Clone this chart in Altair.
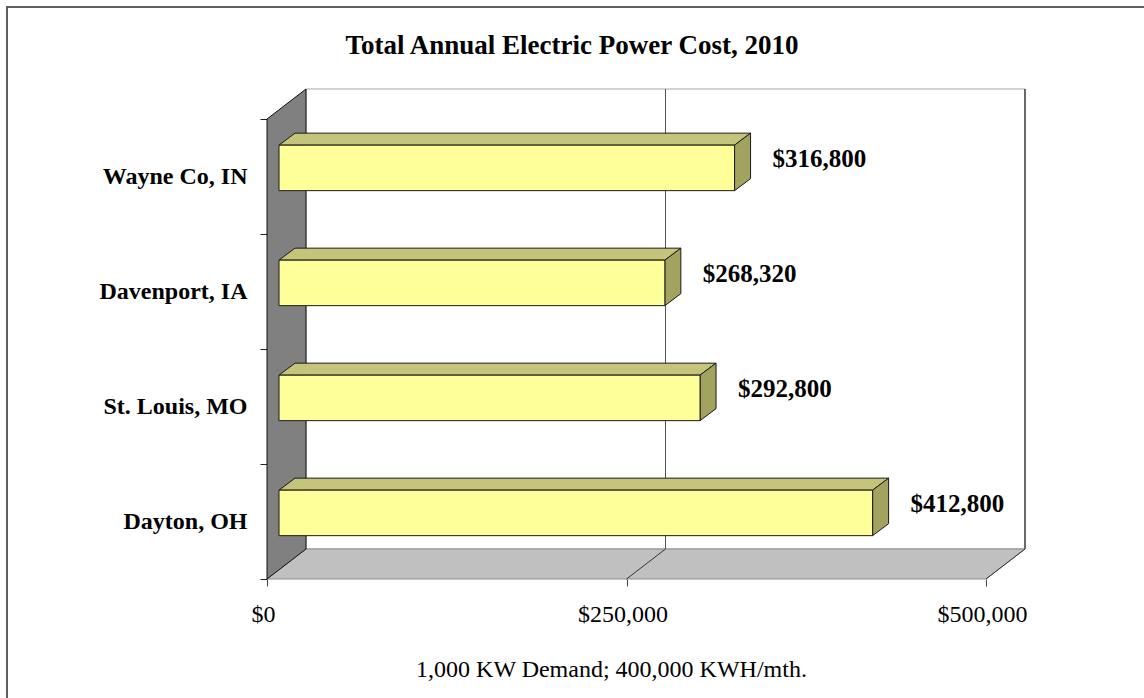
import json
import altair as alt
import pandas as pd

# ---- data -------------------------------------------------------------
cities = ["Wayne Co, IN", "Davenport, IA", "St. Louis, MO", "Dayton, OH"]
costs = [316800, 268320, 292800, 412800]
cost_ticks = [0, 250000, 500000]

chart_title = "Total Annual Electric Power Cost, 2010"
footnote = "1,000 KW Demand; 400,000 KWH/mth."

# ---- layout (pixels) --------------------------------------------------
CANVAS_W, CANVAS_H = 1144, 698
LEFT, TOP = 267, 119            # front-plane origin of the plot
PLOT_W, PLOT_H = 719, 460       # front plane size
X_MAX = 500000
N_ROWS = len(cities)

ux = X_MAX / PLOT_W             # dollars per pixel
uy = N_ROWS / PLOT_H            # category rows per pixel

# oblique depth of the chart box and of every bar
BOX_DX, BOX_DY = 39, 30
BAR_SHIFT_X, BAR_SHIFT_Y = 12, 8.6
BAR_DX, BAR_DY = 16, 12
BAR_H = 45.5

box_dx, box_dy = BOX_DX * ux, BOX_DY * uy
bar_dx, bar_dy = BAR_DX * ux, BAR_DY * uy

SERIF = "Liberation Serif"

# ---- derived tables ---------------------------------------------------
rows = [N_ROWS - i - 0.5 for i in range(N_ROWS)]
bars = pd.DataFrame({"city": cities, "cost": costs, "row": rows})
bars["x0"] = BAR_SHIFT_X * ux
bars["x1"] = bars["cost"] + BAR_SHIFT_X * ux
bars["yc"] = bars["row"] + BAR_SHIFT_Y * uy
bars["yb"] = bars["yc"] - BAR_H / 2 * uy
bars["yt"] = bars["yc"] + BAR_H / 2 * uy
bars["xl"] = bars["x1"] + bar_dx

top_face = pd.DataFrame([
    {"city": r.city, "y": r.yt + k * bar_dy,
     "xa": r.x0 + k * bar_dx, "xb": r.x1 + k * bar_dx}
    for r in bars.itertuples() for k in (0, 1)
])
side_face = pd.DataFrame([
    {"city": r.city, "x": r.x1 + k * bar_dx,
     "ya": r.yb + k * bar_dy, "yb": r.yt + k * bar_dy}
    for r in bars.itertuples() for k in (0, 1)
])

wall = pd.DataFrame({"x0": [box_dx], "x1": [X_MAX + box_dx],
                     "y0": [box_dy], "y1": [N_ROWS + box_dy]})
floor = pd.DataFrame({"y": [0, box_dy], "xa": [0, box_dx],
                      "xb": [X_MAX, X_MAX + box_dx]})
side_wall = pd.DataFrame({"x": [0, box_dx], "ya": [0, box_dy],
                          "yb": [N_ROWS, N_ROWS + box_dy]})
inner = [t for t in cost_ticks if 0 < t < X_MAX]
grid = pd.DataFrame({"x": [t + box_dx for t in inner],
                     "fx": inner, "y0": box_dy, "y1": N_ROWS + box_dy,
                     "fy0": 0.0})
right_edge = pd.DataFrame({"x": [X_MAX + box_dx], "fx": [X_MAX],
                           "y0": [box_dy], "y1": [N_ROWS + box_dy],
                           "fy0": [0.0]})

# ---- scales & axes (shared by every layer) -----------------------------
xs = alt.Scale(domain=[0, X_MAX], nice=False, zero=False)
ys = alt.Scale(domain=[0, N_ROWS], nice=False, zero=False)

names_bottom_up = json.dumps(list(reversed(cities)))
y_axis = alt.Axis(
    values=[i / 2 for i in range(2 * N_ROWS + 1)],
    labelExpr=f"datum.value % 1 == 0 ? '' : {names_bottom_up}[floor(datum.value)]",
    tickOpacity={"condition": {"test": "datum.value % 1 == 0", "value": 1}, "value": 0},
    tickSize=7, tickColor="#222", domain=False, grid=False, title="",
    labelFont=SERIF, labelFontSize=24, labelFontWeight="bold",
    labelColor="black", labelPadding=13, labelOverlap=False,
)
x_axis = alt.Axis(
    values=cost_ticks, format="$,.0f", labelFlush=False, labelOverlap=False,
    tickSize=7, tickColor="#444", domain=False, grid=False,
    labelFont=SERIF, labelFontSize=24, labelColor="black", labelPadding=16,
    labelOffset=-4,
    title=footnote, titleFont=SERIF, titleFontSize=24, titleFontWeight="normal",
    titleColor="black", titleX=611 - LEFT, titleY=669 - TOP - PLOT_H,
    titleBaseline="middle", titleAlign="center",
)


def qx(field):
    return alt.X(field, type="quantitative", scale=xs, stack=None, axis=x_axis)


def qy(field):
    return alt.Y(field, type="quantitative", scale=ys, stack=None, axis=y_axis)


# ---- layers -----------------------------------------------------------
page_frame = alt.Chart(alt.Data(values=[{}])).mark_rect(
    fill="transparent", stroke="#5f5f5f", strokeWidth=2
).encode(
    x=alt.value(7 - LEFT), x2=alt.value(CANVAS_W + 20 - LEFT),
    y=alt.value(7 - TOP), y2=alt.value(CANVAS_H + 20 - TOP),
)

back_wall = alt.Chart(wall).mark_rect(
    fill="white", stroke="#a8a8a8", strokeWidth=1
).encode(x=qx("x0"), x2="x1", y=qy("y0"), y2="y1")

wall_grid = alt.Chart(grid).mark_rule(color="#555", strokeWidth=1).encode(
    x=qx("x"), y=qy("y0"), y2="y1")
wall_edge = alt.Chart(right_edge).mark_rule(color="#222", strokeWidth=1.2).encode(
    x=qx("x"), y=qy("y0"), y2="y1")

floor_layer = alt.Chart(floor).mark_area(
    orient="horizontal", fill="#c0c0c0", stroke="#8a8a8a", strokeWidth=1
).encode(y=qy("y"), x=qx("xa"), x2="xb")

floor_grid = alt.Chart(grid).mark_rule(color="#333", strokeWidth=1).encode(
    x=qx("fx"), x2="x", y=qy("fy0"), y2="y0")
floor_edge = alt.Chart(right_edge).mark_rule(color="#333", strokeWidth=1).encode(
    x=qx("fx"), x2="x", y=qy("fy0"), y2="y0")

side_wall_layer = alt.Chart(side_wall).mark_area(
    orient="vertical", fill="#808080", stroke="#111", strokeWidth=1
).encode(x=qx("x"), y=qy("ya"), y2="yb")

bar_top = alt.Chart(top_face).mark_area(
    orient="horizontal", fill="#c4c47a", stroke="#1a1a1a", strokeWidth=1
).encode(y=qy("y"), x=qx("xa"), x2="xb", detail="city:N")

bar_side = alt.Chart(side_face).mark_area(
    orient="vertical", fill="#a3a360", stroke="#1a1a1a", strokeWidth=1
).encode(x=qx("x"), y=qy("ya"), y2="yb", detail="city:N")

bar_front = alt.Chart(bars).mark_rect(
    fill="#ffff99", stroke="#1a1a1a", strokeWidth=1
).encode(x=qx("x0"), x2="x1", y=qy("yb"), y2="yt")

value_labels = alt.Chart(bars).mark_text(
    align="left", baseline="middle", dx=22, dy=-9,
    font=SERIF, fontSize=25, fontWeight="bold", color="black"
).encode(
    x=qx("xl"), y=qy("yc"),
    text=alt.Text("cost:Q", format="$,.0f"),
)

chart = alt.layer(
    page_frame, back_wall, wall_grid, wall_edge, floor_layer, floor_grid,
    floor_edge, side_wall_layer, bar_top, bar_side, bar_front, value_labels,
).properties(
    width=PLOT_W, height=PLOT_H,
    autosize=alt.AutoSizeParams(type="none"),
    padding={"left": LEFT, "top": TOP,
             "right": CANVAS_W - LEFT - PLOT_W,
             "bottom": CANVAS_H - TOP - PLOT_H},
    background="white",
    title=alt.TitleParams(
        text=chart_title, font=SERIF, fontSize=27, fontWeight="bold",
        color="black", anchor="middle", frame="group",
        baseline="alphabetic", dx=572 - (LEFT + PLOT_W / 2), offset=0, dy=75,
    ),
).configure_view(stroke=None)

chart.save("out.html", embed_options={"renderer": "svg", "actions": False})
